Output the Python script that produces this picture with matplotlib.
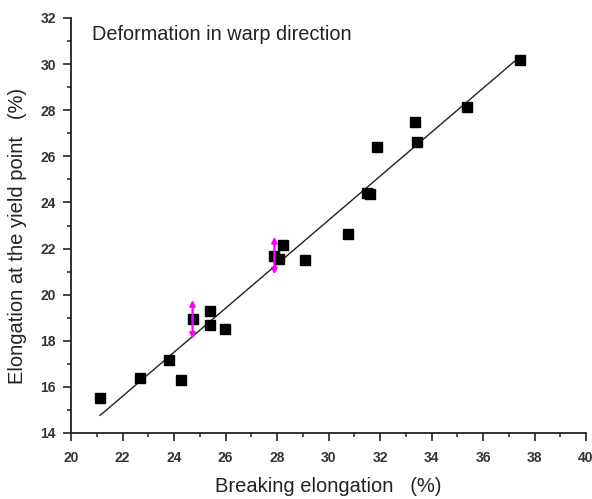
import numpy as np
import matplotlib
matplotlib.use("Agg")
import matplotlib.pyplot as plt
from matplotlib.ticker import MultipleLocator

plt.rcParams['font.family'] = ['Liberation Sans', 'DejaVu Sans']

breaking = [21.13, 22.68, 23.81, 24.26, 24.72, 25.41, 25.41, 25.97, 27.90, 28.07,
            28.25, 29.09, 30.77, 31.50, 31.62, 31.87, 33.35, 33.45, 35.39, 37.44]
yield_pt = [15.52, 16.40, 17.17, 16.30, 18.93, 19.30, 18.70, 18.52, 21.68, 21.56,
            22.15, 21.49, 22.64, 24.39, 24.35, 26.40, 27.47, 26.61, 28.15, 30.18]

arrow_x = [24.72, 27.90]
arrow_lo = [18.08, 20.88]
arrow_hi = [19.77, 22.51]

xticks = [20, 22, 24, 26, 28, 30, 32, 34, 36, 38, 40]
yticks = [14, 16, 18, 20, 22, 24, 26, 28, 30, 32]

fig = plt.figure(figsize=(5.92, 4.99), dpi=100)
ax = fig.add_axes([71/592, 1-433/499, (586-71)/592, (433-18)/499])

bx = np.array(breaking)
by = np.array(yield_pt)
k, b = np.polyfit(bx, by, 1)
xl = np.array([bx.min(), bx.max()])
ax.plot(xl, k*xl + b, color='#222222', lw=1.0, zorder=2)

ax.plot(bx, by, 's', color='black', ms=7.5, zorder=3)

for xa, lo, hi in zip(arrow_x, arrow_lo, arrow_hi):
    ax.annotate('', xy=(xa, hi), xytext=(xa, lo),
                arrowprops=dict(arrowstyle='<|-|>', color='#ff00ff', lw=1.6,
                                mutation_scale=8, shrinkA=0, shrinkB=0), zorder=4)

ax.set_xlim(20, 40)
ax.set_ylim(14, 32)
ax.set_xticks(xticks)
ax.set_yticks(yticks)
ax.xaxis.set_minor_locator(MultipleLocator(1))
ax.yaxis.set_minor_locator(MultipleLocator(1))
ax.spines['top'].set_visible(False)
ax.spines['right'].set_visible(False)
for s in ['left', 'bottom']:
    ax.spines[s].set_linewidth(1.3)
    ax.spines[s].set_color('#222222')
ax.tick_params(which='major', direction='out', length=6, width=1.2, color='#222222')
ax.tick_params(axis='x', which='major', pad=7)
ax.tick_params(axis='y', which='major', pad=5)
ax.tick_params(which='minor', direction='out', length=3, width=1.1, color='#222222')
for lab in ax.get_xticklabels() + ax.get_yticklabels():
    lab.set_fontsize(10)
    lab.set_fontweight('bold')
    lab.set_color('#333333')

ax.set_xlabel('Breaking elongation   (%)', fontsize=14.5, color='#222222')
ax.xaxis.set_label_coords(0.5, -(487-433)/415)
ax.xaxis.label.set_va('center')
ax.set_ylabel('Elongation at the yield point   (%)', fontsize=14.5, color='#222222')
ax.yaxis.set_label_coords((18-71)/515, (433-236)/415)
ax.yaxis.label.set_va('center')
ax.text((92-71)/515, (433-40)/415, 'Deformation in warp direction', transform=ax.transAxes,
        fontsize=14.3, color='#222222', va='baseline', ha='left')

fig.savefig('out.png', dpi=100)
